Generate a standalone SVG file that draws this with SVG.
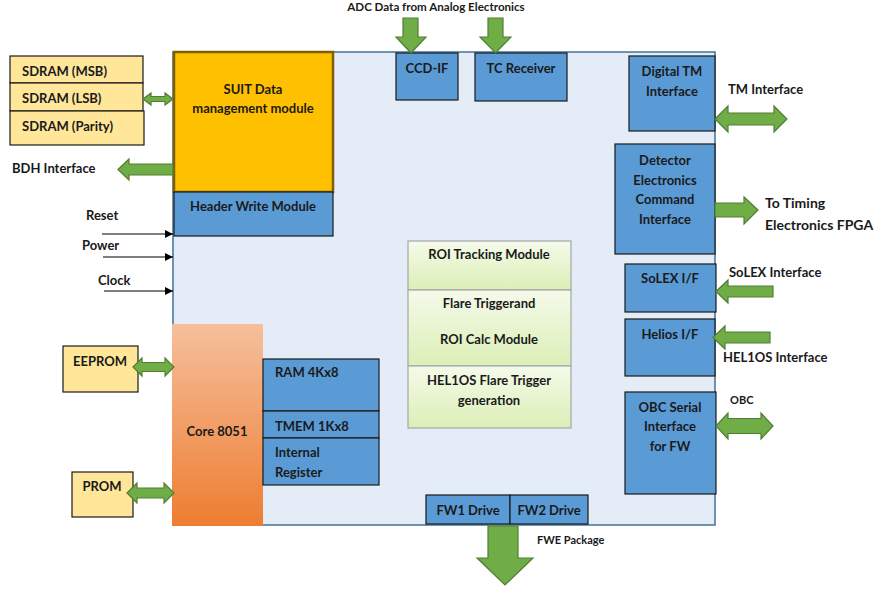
<svg xmlns="http://www.w3.org/2000/svg" width="874" height="589" viewBox="0 0 874 589">
<style>
text{font-family:Lato,"Liberation Sans",sans-serif;font-weight:bold;fill:#1a1a1a;font-size:13px}
.c{text-anchor:middle}
.blue{fill:#5B9BD5;stroke:#1a1a1a;stroke-width:1.2}
.yel{fill:#FFE699;stroke:#1a1a1a;stroke-width:1.2}
.ga{fill:#70AD47;stroke:#507E32;stroke-width:1.2}
.cell{fill:url(#gGreen);stroke:#A6A6A6;stroke-width:1.2}
.sig{stroke:#000;stroke-width:1.2;fill:none;marker-end:url(#ah)}
</style>
<defs>
<linearGradient id="gCore" x1="0" y1="0" x2="0" y2="1"><stop offset="0" stop-color="#F6BF9C"/><stop offset="1" stop-color="#ED7D31"/></linearGradient>
<linearGradient id="gGreen" x1="0" y1="0" x2="0" y2="1"><stop offset="0" stop-color="#F4FAEA"/><stop offset="1" stop-color="#DCEFB6"/></linearGradient>
<marker id="ah" markerWidth="8" markerHeight="8" refX="8" refY="4" orient="auto" markerUnits="userSpaceOnUse"><path d="M0,0 L8,4 L0,8 Z" fill="#000"/></marker>
</defs>

<g id="main">
<rect x="173" y="52" width="542" height="473" fill="#E3ECF7" stroke="#41719C" stroke-width="1.5"/>
</g>

<g id="suit"><rect x="174" y="52" width="159" height="140" fill="#FFC000" stroke="#7F6000" stroke-width="2.5"/>
<text class="c" x="253" y="94">SUIT Data</text><text class="c" x="253" y="113">management module</text></g>
<g id="header"><rect class="blue" x="174" y="192" width="159" height="44"/><text class="c" x="253" y="211">Header Write Module</text></g>

<g id="sdram">
<rect class="yel" x="10" y="56" width="133" height="27"/><text x="22" y="76">SDRAM (MSB)</text>
<rect class="yel" x="10" y="83" width="133" height="28"/><text x="22" y="103">SDRAM (LSB)</text>
<rect class="yel" x="10" y="111" width="134" height="34"/><text x="22" y="131">SDRAM (Parity)</text>
</g>

<g id="ccdif"><rect class="blue" x="396" y="53" width="62" height="47"/><text class="c" x="427" y="73">CCD-IF</text></g>
<g id="tcrx"><rect class="blue" x="475" y="53" width="92" height="48"/><text class="c" x="521" y="73">TC Receiver</text></g>

<g id="dtm"><rect class="blue" x="629" y="56" width="86" height="75"/><text class="c" x="672" y="76">Digital TM</text><text class="c" x="672" y="96">Interface</text></g>
<g id="dec"><rect class="blue" x="615" y="144" width="100" height="110"/>
<text class="c" x="665" y="165">Detector</text><text class="c" x="665" y="185">Electronics</text><text class="c" x="665" y="204">Command</text><text class="c" x="665" y="224">Interface</text></g>
<g id="solex"><rect class="blue" x="625" y="264" width="91" height="48"/><text class="c" x="670" y="283">SoLEX I/F</text></g>
<g id="helios"><rect class="blue" x="625" y="319" width="90" height="57"/><text class="c" x="670" y="339">Helios I/F</text></g>
<g id="obc"><rect class="blue" x="625" y="392" width="91" height="102"/>
<text class="c" x="670" y="412">OBC Serial</text><text class="c" x="670" y="431">Interface</text><text class="c" x="670" y="451">for FW</text></g>

<g id="roi">
<rect class="cell" x="408" y="241" width="163" height="49"/><text class="c" x="489" y="259">ROI Tracking Module</text>
<rect class="cell" x="408" y="290" width="163" height="76"/><text class="c" x="489" y="308">Flare Triggerand</text><text class="c" x="489" y="344">ROI Calc Module</text>
<rect class="cell" x="408" y="366" width="163" height="62"/><text class="c" x="489" y="385">HEL1OS Flare Trigger</text><text class="c" x="489" y="405">generation</text>
</g>

<g id="core"><rect x="172" y="324" width="91" height="202" fill="url(#gCore)"/><text class="c" x="217" y="436">Core 8051</text></g>
<g id="mem">
<rect class="blue" x="263" y="359" width="116" height="52"/><text x="275" y="377">RAM 4Kx8</text>
<rect class="blue" x="263" y="411" width="116" height="27"/><text x="275" y="431">TMEM 1Kx8</text>
<rect class="blue" x="263" y="438" width="116" height="47"/><text x="275" y="457">Internal</text><text x="275" y="477">Register</text>
</g>

<g id="eeprom"><rect class="yel" x="63" y="346" width="75" height="46"/><text class="c" x="100" y="366">EEPROM</text></g>
<g id="prom"><rect class="yel" x="72" y="472" width="61" height="45"/><text class="c" x="102" y="491">PROM</text></g>

<g id="fw"><rect class="blue" x="426" y="495" width="84" height="29"/><text class="c" x="468" y="515">FW1 Drive</text>
<rect class="blue" x="510" y="495" width="78" height="29"/><text class="c" x="549" y="515">FW2 Drive</text></g>

<g id="connectors">
<path class="ga" d="M143,99 L151,93 L151,96.5 L165,96.5 L165,93 L173,99 L165,105 L165,101.5 L151,101.5 L151,105 Z"/>
<path class="ga" d="M118,169.5 L129,159 L129,164 L173,164 L173,175 L129,175 L129,180 Z"/>
<path class="ga" d="M403,18 L418,18 L418,37 L426,37 L411,53 L396,37 L403,37 Z"/>
<path class="ga" d="M488,18 L503,18 L503,37 L511,37 L495.5,53 L480,37 L488,37 Z"/>
<path class="ga" d="M715,119 L728,106 L728,113 L774,113 L774,106 L787,119 L774,132 L774,125 L728,125 L728,132 Z"/>
<path class="ga" d="M715,203 L744,203 L744,197 L758,210 L744,224 L744,217 L715,217 Z"/>
<path class="ga" d="M716,291.5 L728,280 L728,286 L773,286 L773,297 L728,297 L728,303 Z"/>
<path class="ga" d="M713,337.5 L725,326 L725,332 L770,332 L770,343 L725,343 L725,349 Z"/>
<path class="ga" d="M716,426 L728,413 L728,418.5 L761,418.5 L761,413 L773,426 L761,439 L761,433.5 L728,433.5 L728,439 Z"/>
<path class="ga" d="M133,367 L142,358 L142,362.5 L165,362.5 L165,358 L174,367 L165,376 L165,371.5 L142,371.5 L142,376 Z"/>
<path class="ga" d="M127,493 L137,483 L137,488 L164,488 L164,483 L174,493 L164,503 L164,498 L137,498 L137,503 Z"/>
<path class="ga" d="M488,526 L518,526 L518,558 L533,558 L505,585 L477,558 L488,558 Z"/>
<line class="sig" x1="102" y1="234" x2="173" y2="234"/>
<line class="sig" x1="103" y1="257" x2="173" y2="257"/>
<line class="sig" x1="104" y1="291" x2="173" y2="291"/>
</g>

<g id="labels">
<text class="c" x="436" y="11" style="font-size:11.6px">ADC Data from Analog Electronics</text>
<text x="12" y="173">BDH Interface</text>
<text x="86" y="220">Reset</text>
<text x="82" y="250">Power</text>
<text x="98" y="285">Clock</text>
<text x="728" y="94">TM Interface</text>
<text x="765" y="208" style="font-size:14px">To Timing</text>
<text x="765" y="230" style="font-size:14px">Electronics FPGA</text>
<text x="729" y="277">SoLEX Interface</text>
<text x="723" y="362">HEL1OS Interface</text>
<text x="730" y="404" style="font-size:11px">OBC</text>
<text x="537" y="544" style="font-size:11px">FWE Package</text>
</g>
</svg>
